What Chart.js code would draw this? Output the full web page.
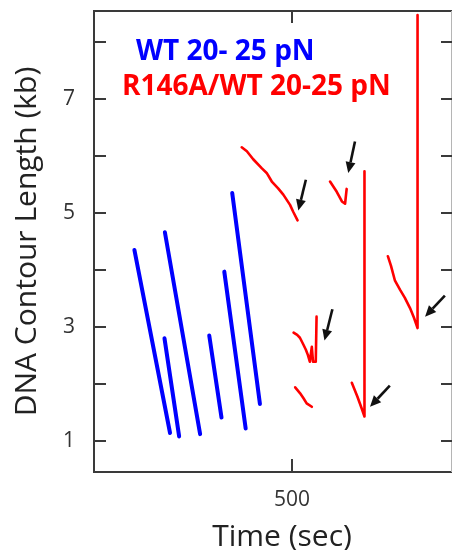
<!DOCTYPE html>
<html>
<head>
<meta charset="utf-8">
<script src="https://cdn.jsdelivr.net/npm/chart.js@4.4.1/dist/chart.umd.min.js"></script>
<style>
  html, body { margin: 0; padding: 0; background: #fff; overflow: hidden; }
</style>
</head>
<body>
<canvas id="graficoTraces" width="453" height="550"></canvas>
<script>
// Traços WT (azul) - [tempo (s), comprimento (kb)]
const wtTrace1 = [[102, 4.35], [192, 1.14]];
const wtTrace2 = [[178, 2.80], [215, 1.08]];
const wtTrace3 = [[179, 4.66], [268, 1.12]];
const wtTrace4 = [[291, 2.85], [322, 1.41]];
const wtTrace5 = [[329, 3.97], [383, 1.22]];
const wtTrace6 = [[349, 5.35], [419, 1.65]];

// Traços R146A/WT (vermelho)
const mutTrace1 = [[373, 6.15], [386, 6.08], [402, 5.94], [424, 5.78], [436, 5.70], [449, 5.55],
                   [465, 5.43], [478, 5.32], [495, 5.14], [503, 5.02], [514, 4.87]];
const mutTrace2 = [[596, 5.55], [613, 5.37], [626, 5.20], [634, 5.16], [638, 5.42]];
const mutTrace3 = [[651, 2.02], [665, 1.78], [676, 1.57], [683, 1.43], [683, 5.73]];
const mutTrace4 = [[742, 4.24], [750, 4.07], [760, 3.81], [773, 3.65], [785, 3.51], [798, 3.33],
                   [808, 3.16], [817, 2.98], [817, 8.47]];
const mutTrace5 = [[504, 2.90], [513, 2.86], [520, 2.81], [528, 2.70], [535, 2.60], [540, 2.51],
                   [545, 2.39], [550, 2.65], [553, 2.39], [560, 2.39], [562, 3.18]];
const mutTrace6 = [[508, 1.94], [520, 1.84], [529, 1.75], [537, 1.66], [550, 1.60]];

// Setas: [x cauda, y cauda, x ponta, y ponta]
const arrows = [
    [535, 5.58, 516, 5.04],
    [659, 6.25, 642, 5.70],
    [747, 1.97, 697, 1.60],
    [886, 3.55, 836, 3.18],
    [602, 3.31, 582, 2.76]
];

const yTicks = [1, 2, 3, 4, 5, 6, 7, 8];
const yLabeled = [1, 3, 5, 7];
const xTicks = [500];

const wtTraces = [wtTrace1, wtTrace2, wtTrace3, wtTrace4, wtTrace5, wtTrace6];
const mutTraces = [mutTrace1, mutTrace2, mutTrace3, mutTrace4, mutTrace5, mutTrace6];

function toPoints(trace) {
    return trace.map(p => ({ x: p[0], y: p[1] }));
}

const datasets = [];
wtTraces.forEach(t => datasets.push({
    data: toPoints(t), borderColor: '#0000ff', borderWidth: 4
}));
mutTraces.forEach(t => datasets.push({
    data: toPoints(t), borderColor: '#ff0000', borderWidth: 2.6
}));
datasets.forEach(d => {
    d.showLine = true;
    d.pointRadius = 0;
    d.tension = 0;
    d.borderCapStyle = 'round';
    d.borderJoinStyle = 'round';
});

// Moldura, marcas internas, setas e textos
const framePlugin = {
    id: 'framePlugin',
    afterDraw(chart) {
        const ctx = chart.ctx;
        const a = chart.chartArea;
        const xs = chart.scales.x;
        const ys = chart.scales.y;
        ctx.save();

        // moldura
        ctx.strokeStyle = '#3a3a3a';
        ctx.lineWidth = 2;
        ctx.beginPath();
        ctx.moveTo(a.right, a.top);
        ctx.lineTo(a.left, a.top);
        ctx.lineTo(a.left, a.bottom);
        ctx.lineTo(a.right, a.bottom);
        ctx.stroke();
        ctx.strokeStyle = '#b5b5b5';
        ctx.lineWidth = 1;
        ctx.beginPath();
        ctx.moveTo(a.right - 0.5, a.top);
        ctx.lineTo(a.right - 0.5, a.bottom);
        ctx.stroke();

        // marcas
        ctx.strokeStyle = '#3a3a3a';
        ctx.lineWidth = 2;
        ctx.beginPath();
        yTicks.forEach(v => {
            const py = Math.round(ys.getPixelForValue(v));
            ctx.moveTo(a.left, py);
            ctx.lineTo(a.left + 12, py);
            ctx.moveTo(a.right - 11, py);
            ctx.lineTo(a.right, py);
        });
        xTicks.forEach(v => {
            const px = Math.round(xs.getPixelForValue(v));
            ctx.moveTo(px, a.bottom);
            ctx.lineTo(px, a.bottom - 13);
            ctx.moveTo(px, a.top);
            ctx.lineTo(px, a.top + 12);
        });
        ctx.stroke();

        // setas
        ctx.strokeStyle = '#111';
        ctx.fillStyle = '#111';
        ctx.lineWidth = 2.6;
        arrows.forEach(ar => {
            const x1 = xs.getPixelForValue(ar[0]), y1 = ys.getPixelForValue(ar[1]);
            const x2 = xs.getPixelForValue(ar[2]), y2 = ys.getPixelForValue(ar[3]);
            const ang = Math.atan2(y2 - y1, x2 - x1);
            const head = 11, half = 5;
            const bx = x2 - head * Math.cos(ang), by = y2 - head * Math.sin(ang);
            ctx.beginPath();
            ctx.moveTo(x1, y1);
            ctx.lineTo(bx, by);
            ctx.stroke();
            ctx.beginPath();
            ctx.moveTo(x2, y2);
            ctx.lineTo(bx + half * Math.sin(ang), by - half * Math.cos(ang));
            ctx.lineTo(bx - half * Math.sin(ang), by + half * Math.cos(ang));
            ctx.closePath();
            ctx.fill();
        });

        // legendas
        ctx.textBaseline = 'middle';
        ctx.textAlign = 'left';
        ctx.font = 'bold 28px "Open Sans"';
        ctx.fillStyle = '#0000ff';
        ctx.fillText('WT 20- 25 pN', 136, 52);
        ctx.fillStyle = '#ff0000';
        ctx.fillText('R146A/WT 20-25 pN', 122, 87);

        // título do eixo x
        ctx.textAlign = 'center';
        ctx.font = '30px "Open Sans"';
        ctx.fillStyle = '#222';
        ctx.fillText('Time (sec)', 282, 537);
        ctx.restore();
    }
};

new Chart(document.getElementById('graficoTraces'), {
    type: 'scatter',
    data: { datasets: datasets },
    options: {
        responsive: false,
        animation: false,
        layout: { padding: { left: 0, right: 1, top: 11, bottom: 0 } },
        scales: {
            x: {
                type: 'linear',
                min: 0,
                max: 904,
                afterBuildTicks: scale => { scale.ticks = xTicks.map(v => ({ value: v })); },
                afterFit: scale => {
                    scale.height = 78;
                    scale.paddingLeft = 0;
                    scale.paddingRight = 0;
                },
                grid: { display: false, drawTicks: false },
                border: { display: false },
                ticks: {
                    padding: 15,
                    color: '#333',
                    font: { family: 'Open Sans', size: 21 }
                },
                title: { display: false }
            },
            y: {
                type: 'linear',
                min: 0.456,
                max: 8.54,
                afterBuildTicks: scale => { scale.ticks = yTicks.map(v => ({ value: v })); },
                afterFit: scale => {
                    scale.width = 94;
                    scale.paddingTop = 0;
                    scale.paddingBottom = 0;
                },
                grid: { display: false, drawTicks: false },
                border: { display: false },
                ticks: {
                    padding: 19,
                    color: '#333',
                    font: { family: 'Open Sans', size: 21 },
                    callback: v => yLabeled.includes(v) ? String(v) : ''
                },
                title: {
                    display: true,
                    text: 'DNA Contour Length (kb)',
                    color: '#222',
                    padding: { top: 9, bottom: 0 },
                    font: { family: 'Open Sans', size: 30 }
                }
            }
        },
        plugins: {
            legend: { display: false },
            tooltip: { enabled: false }
        }
    },
    plugins: [framePlugin]
});
</script>
</body>
</html>
